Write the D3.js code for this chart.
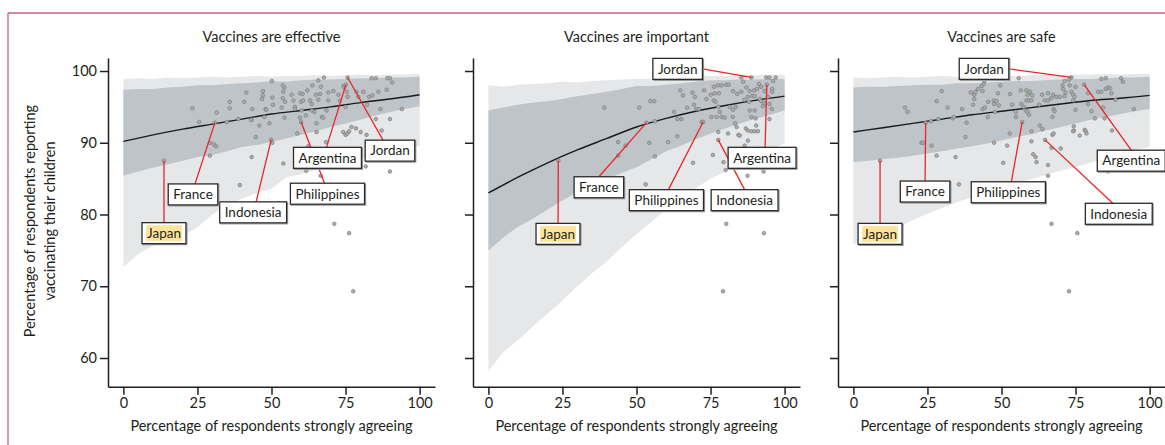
<!DOCTYPE html>
<html>
<head>
<meta charset="utf-8">
<script src="https://cdn.jsdelivr.net/npm/d3@7"></script>
<style>
body { margin: 0; background: #fff; }
text { font-family: Lato, "Open Sans", sans-serif; fill: #231f20; }
</style>
</head>
<body>
<script>
// tick labels and titles
var tickX = [0, 25, 50, 75, 100];
var tickY = [60, 70, 80, 90, 100];
var panelTitles = ["Vaccines are effective", "Vaccines are important", "Vaccines are safe"];
var countries = ["Japan", "France", "Indonesia", "Argentina", "Philippines", "Jordan"];

// prediction bands, read every 5 points along x
var bandX = [0,5,10,15,20,25,30,35,40,45,50,55,60,65,70,75,80,85,90,95,100];
var effOuterHi = [98.9,99.0,98.9,99.1,99.0,99.1,99.2,99.1,99.2,99.3,99.2,99.3,99.3,99.4,99.3,99.4,99.5,99.4,99.5,99.5,99.6];
var effInnerHi = [97.4,97.5,97.5,97.7,97.8,98.0,98.0,98.2,98.3,98.4,98.6,98.5,98.7,98.8,98.8,98.9,99.0,99.0,99.1,99.1,99.2];
var effInnerLo = [85.4,86.0,86.5,87.0,87.5,88.0,88.3,88.8,89.4,89.7,90.1,90.6,91.1,91.6,92.2,92.7,93.2,93.8,94.3,94.7,95.1];
var effOuterLo = [72.7,74.5,75.6,76.3,77.0,78.2,80.0,81.3,82.2,83.0,83.6,85.2,85.6,86.2,86.8,87.2,87.7,88.2,88.8,89.2,89.6];

var impOuterHi = [98.0,97.8,98.1,98.2,98.3,98.5,98.4,98.6,98.7,98.8,98.9,98.9,99.0,99.1,99.2,99.3,99.3,99.4,99.4,99.5,99.5];
var impInnerHi = [94.5,94.9,95.3,95.6,95.8,96.1,96.5,96.8,97.1,97.5,97.9,97.9,98.1,98.3,98.5,98.7,98.7,98.8,98.8,98.9,98.9];
var impInnerLo = [75.0,76.8,78.3,79.4,80.7,82.0,83.1,84.2,85.0,85.8,86.6,87.7,88.8,89.6,90.5,91.3,92.0,92.7,93.3,93.9,94.5];
var impOuterLo = [58.2,60.8,62.5,64.4,66.2,68.0,70.0,71.8,73.5,75.4,77.3,79.0,80.7,82.3,83.7,85.0,86.0,87.0,88.0,89.0,89.9];

var safeOuterHi = [99.1,99.0,99.1,99.2,99.1,99.2,99.3,99.2,99.3,99.3,99.4,99.3,99.4,99.5,99.4,99.5,99.5,99.6,99.5,99.6,99.6];
var safeInnerHi = [97.7,97.8,97.8,97.9,98.0,98.1,98.1,98.3,98.3,98.4,98.5,98.6,98.6,98.7,98.8,98.9,98.9,99.0,99.1,99.1,99.2];
var safeInnerLo = [87.3,87.5,87.7,87.9,88.2,88.5,88.8,89.2,89.5,89.9,90.3,90.8,91.2,91.7,92.2,92.7,93.2,93.6,94.0,94.4,94.7];
var safeOuterLo = [75.9,76.5,77.3,78.2,79.2,80.1,80.9,81.7,82.4,83.0,83.6,84.3,84.9,85.5,86.1,86.6,87.2,87.8,88.5,89.0,89.4];

// fitted curves
var curveX = [0,10,20,30,40,50,60,70,80,90,100];
var effCurve = [90.2,91.1,91.9,92.6,93.3,94.0,94.5,95.0,95.6,96.1,96.7];
var impCurve = [83.0,85.2,87.2,89.0,90.6,92.2,93.4,94.4,95.2,95.9,96.5];
var safeCurve = [91.5,92.1,92.7,93.3,93.9,94.4,94.9,95.4,95.9,96.2,96.6];

// labelled countries [x, y] in the order of `countries`
var effHighlight = [[13.7,87.5],[30.9,92.8],[49.9,90.4],[75.1,98.1],[60.0,92.9],[75.7,99.1]];
var impHighlight = [[23.6,87.5],[53.4,92.8],[77.6,90.4],[94.0,98.1],[72.5,92.9],[88.8,99.1]];
var safeHighlight = [[9.0,87.5],[24.4,92.8],[64.7,90.4],[77.9,98.1],[57.0,92.9],[73.6,99.1]];

// other countries [x, y]
var effPoints = [[23.3,94.8],[25.6,92.9],[29.2,90.0],[30.5,89.8],[31.3,89.5],[29.2,88.2],[31.5,94.2],[35.9,95.7],[35.9,94.8],[34.9,92.9],[38.8,93.3],[40.8,95.7],[41.5,97.0],[43.5,94.7],[43.3,93.2],[43.3,88.0],[39.3,84.1],[44.7,90.8],[45.9,92.4],[47.1,97.2],[47.1,96.6],[46.8,96.1],[48.0,94.7],[47.6,93.6],[49.3,92.7],[50.1,98.6],[50.3,96.3],[50.5,95.3],[50.3,90.0],[54.0,87.1],[54.3,97.7],[54.0,97.1],[53.8,96.2],[54.6,95.7],[53.4,94.9],[54.4,93.5],[56.8,96.7],[57.4,95.9],[57.9,95.0],[58.7,91.3],[59.6,96.9],[60.5,96.8],[60.0,95.7],[60.7,95.9],[60.2,94.5],[61.6,93.8],[62.1,97.3],[63.0,95.9],[63.6,95.4],[63.6,94.5],[62.4,89.5],[61.7,86.1],[63.8,98.0],[65.0,96.7],[65.8,96.0],[64.5,94.3],[65.2,92.7],[65.2,91.5],[65.8,98.7],[66.7,97.8],[66.4,96.8],[67.0,93.6],[67.5,93.5],[67.7,99.1],[69.2,97.0],[69.2,95.9],[68.6,94.5],[66.6,85.4],[68.4,90.1],[70.9,97.2],[72.6,96.7],[73.1,95.9],[74.3,97.9],[74.6,97.7],[75.4,97.1],[75.7,96.4],[75.0,95.0],[74.2,91.5],[75.0,91.1],[75.6,91.3],[76.2,91.6],[77.0,92.2],[78.5,92.0],[80.1,91.5],[82.1,91.1],[78.7,97.1],[79.3,96.4],[81.0,97.1],[82.3,95.3],[83.8,99.0],[85.2,99.0],[82.9,96.4],[84.1,96.6],[86.1,97.1],[85.2,93.3],[86.8,94.7],[87.2,91.7],[88.9,97.4],[89.1,99.0],[90.0,99.0],[90.8,98.4],[90.0,93.3],[94.0,94.7],[81.8,86.7],[90.0,86.0],[71.2,78.7],[76.2,77.4],[77.6,69.3],[43.1,93.2],[48.2,94.6],[53.8,98.0],[57.9,94.7],[59.6,93.5]];
var impPoints = [[39.1,94.9],[50.9,94.9],[54.7,95.8],[56.0,95.8],[56.2,93.0],[43.8,90.1],[43.8,88.2],[46.3,89.6],[54.3,90.0],[56.2,88.1],[53.1,84.2],[60.7,90.1],[62.7,94.3],[63.8,93.3],[65.2,93.3],[63.8,90.9],[64.8,97.3],[65.7,96.6],[67.1,94.9],[68.9,97.0],[69.7,96.4],[69.4,95.3],[70.2,94.7],[71.1,94.7],[69.1,87.2],[72.0,92.9],[72.8,97.3],[73.6,96.1],[75.1,96.7],[76.4,96.9],[77.8,96.9],[76.1,97.8],[77.5,98.0],[78.7,98.0],[76.1,95.9],[76.7,95.7],[77.6,95.0],[75.3,93.6],[77.0,93.6],[78.7,93.6],[79.8,93.5],[78.1,94.3],[80.3,98.1],[81.1,98.1],[82.6,97.2],[84.0,96.8],[85.4,97.1],[81.5,95.0],[82.6,94.6],[83.5,95.0],[82.5,93.6],[83.3,92.7],[83.8,92.2],[84.4,91.1],[84.9,91.0],[77.6,91.5],[80.9,91.3],[75.8,88.3],[79.4,87.3],[80.1,86.2],[86.0,98.5],[85.4,99.1],[87.1,97.7],[88.2,97.2],[89.7,97.3],[90.7,97.5],[87.6,96.4],[89.1,96.5],[89.9,96.5],[86.5,96.0],[88.0,95.7],[88.2,94.5],[89.9,94.5],[88.8,93.6],[90.2,93.4],[90.4,92.4],[86.9,92.0],[87.6,91.7],[88.8,91.6],[89.9,91.6],[91.0,91.6],[87.6,90.3],[86.5,89.6],[87.5,85.4],[91.3,98.2],[92.1,97.8],[93.3,97.2],[91.6,96.1],[92.1,95.8],[92.7,95.1],[93.3,95.5],[93.8,99.1],[94.9,99.1],[96.1,98.6],[97.0,99.1],[94.4,96.4],[94.9,95.4],[95.8,97.5],[95.8,97.1],[95.7,94.7],[94.9,93.3],[92.9,86.0],[80.3,78.7],[93.0,77.4],[79.2,69.3]];
var safePoints = [[17.4,94.9],[18.3,94.3],[28.1,95.8],[29.8,97.2],[31.8,94.9],[26.2,93.0],[28.7,93.3],[23.0,90.0],[23.6,90.0],[26.4,89.6],[28.1,88.2],[34.5,88.0],[35.6,84.2],[33.5,93.4],[33.9,93.6],[36.7,94.7],[37.8,90.8],[38.2,92.8],[39.6,97.0],[40.8,96.7],[41.2,97.1],[40.8,96.1],[40.4,95.3],[42.1,97.5],[43.3,97.9],[44.2,98.6],[44.0,98.2],[43.6,97.2],[43.6,94.7],[44.4,94.9],[45.4,93.6],[45.5,95.7],[47.4,95.9],[47.5,95.4],[48.3,95.8],[49.1,95.2],[47.8,94.3],[49.6,98.0],[48.8,96.9],[47.5,90.0],[51.9,89.6],[50.6,87.2],[52.9,96.8],[53.6,95.3],[52.8,91.3],[54.8,94.3],[54.9,93.6],[55.8,99.0],[56.5,97.3],[56.7,95.4],[57.5,95.0],[58.4,97.3],[58.8,96.7],[59.6,97.1],[60.4,96.6],[58.4,95.9],[59.3,95.9],[60.1,95.9],[58.2,94.5],[58.8,94.3],[59.3,93.9],[60.1,91.6],[60.1,90.2],[60.7,88.4],[61.5,88.0],[61.8,87.3],[63.7,96.7],[62.7,95.3],[62.9,92.4],[63.8,91.9],[65.7,96.9],[66.8,96.2],[67.4,96.7],[64.6,95.9],[65.7,95.9],[67.6,94.7],[67.9,94.4],[67.2,93.6],[67.2,91.1],[67.6,91.3],[66.9,89.3],[70.0,89.2],[65.7,86.9],[65.7,85.4],[68.5,96.4],[69.7,96.4],[71.3,96.5],[71.6,97.0],[70.6,98.0],[70.8,97.5],[71.3,98.6],[72.8,98.8],[73.0,98.0],[73.6,97.1],[74.2,96.7],[74.7,96.4],[74.2,95.9],[74.4,92.3],[74.4,91.7],[74.2,91.6],[75.0,97.8],[75.0,94.6],[76.4,91.0],[78.1,91.8],[78.4,91.6],[78.7,91.3],[79.2,96.9],[79.2,95.4],[80.4,94.4],[81.5,93.4],[82.6,97.1],[83.7,97.1],[83.7,98.9],[85.2,99.0],[84.3,94.9],[84.8,93.4],[85.2,97.5],[86.0,97.7],[86.7,97.6],[87.1,96.9],[87.3,91.7],[88.5,96.0],[86.0,86.0],[90.4,99.0],[91.0,98.5],[94.7,94.7],[66.9,78.7],[75.6,77.4],[72.8,69.3]];

// label box placement in data units: box centre, where the leader meets the box
var effLabels = [
  {bx: 13.7, by: 77.4, side: "top", dx: 0},
  {bx: 23.5, by: 82.8, side: "top", dx: 2},
  {bx: 43.8, by: 80.3, side: "top", dx: 3},
  {bx: 68.9, by: 87.9, side: "top", dx: -1},
  {bx: 68.9, by: 82.9, side: "top", dx: -3},
  {bx: 90.0, by: 88.9, side: "top", dx: -7}
];
var impLabels = [
  {bx: 23.5, by: 77.3, side: "top", dx: 0},
  {bx: 37.3, by: 83.8, side: "top", dx: 0},
  {bx: 86.5, by: 82.0, side: "top", dx: 0},
  {bx: 92.4, by: 87.9, side: "top", dx: 3},
  {bx: 60.1, by: 82.0, side: "top", dx: 2},
  {bx: 63.9, by: 100.3, side: "right", dx: 0}
];
var safeLabels = [
  {bx: 9.0, by: 77.3, side: "top", dx: 0},
  {bx: 24.2, by: 83.2, side: "top", dx: 0},
  {bx: 89.6, by: 80.1, side: "top", dx: -6},
  {bx: 93.8, by: 87.5, side: "top", dx: 0},
  {bx: 52.3, by: 83.1, side: "top", dx: 3},
  {bx: 44.1, by: 100.3, side: "right", dx: 0}
];

var panels = [
  {title: panelTitles[0], oHi: effOuterHi, iHi: effInnerHi, iLo: effInnerLo, oLo: effOuterLo, curve: effCurve, pts: effPoints, hl: effHighlight, labels: effLabels},
  {title: panelTitles[1], oHi: impOuterHi, iHi: impInnerHi, iLo: impInnerLo, oLo: impOuterLo, curve: impCurve, pts: impPoints, hl: impHighlight, labels: impLabels},
  {title: panelTitles[2], oHi: safeOuterHi, iHi: safeInnerHi, iLo: safeInnerLo, oLo: safeOuterLo, curve: safeCurve, pts: safePoints, hl: safeHighlight, labels: safeLabels}
];

var W = 1165, H = 445;
var svg = d3.select("body").append("svg")
            .attr("width", W)
            .attr("height", H);

// page frame
svg.append("line").attr("x1", 8).attr("x2", W).attr("y1", 13).attr("y2", 13)
   .attr("stroke", "#c9607d").attr("stroke-width", 1.3);
svg.append("line").attr("x1", 8).attr("x2", 8).attr("y1", 13).attr("y2", H)
   .attr("stroke", "#c9607d").attr("stroke-width", 1.3);

var y = d3.scaleLinear().domain([56, 101.8]).range([386.7, 58.1]);

panels.forEach(function(p, i) {
    var off = i * 365;
    var x = d3.scaleLinear().domain([-5.2, 105.2]).range([108 + off, 435 + off]);
    var g = svg.append("g");

    var band = function(hi, lo) {
        return d3.area()
                 .x(function(d, k) { return x(bandX[k]); })
                 .y0(function(d, k) { return y(lo[k]); })
                 .y1(function(d, k) { return y(hi[k]); })(bandX);
    };
    g.append("path").attr("d", band(p.oHi, p.oLo)).attr("fill", "#e6e7e8");
    g.append("path").attr("d", band(p.iHi, p.iLo)).attr("fill", "#bec4c8");

    var line = d3.line()
                 .x(function(d, k) { return x(curveX[k]); })
                 .y(function(d) { return y(d); })
                 .curve(d3.curveMonotoneX);
    g.append("path").attr("d", line(p.curve))
     .attr("fill", "none").attr("stroke", "#1a1a1a").attr("stroke-width", 1.4);

    g.selectAll(".pt")
     .data(p.pts.concat(p.hl))
     .enter()
     .append("circle")
     .attr("cx", function(d) { return x(d[0]); })
     .attr("cy", function(d) { return y(d[1]); })
     .attr("r", 1.8)
     .attr("fill", "#adadad")
     .attr("stroke", "#7a7a7a")
     .attr("stroke-width", 0.7);

    // axes
    var yAxis = d3.axisLeft(y).tickValues(tickY).tickSize(8).tickSizeOuter(0).tickPadding(3);
    if (i > 0) yAxis.tickFormat("");
    var ya = g.append("g").attr("transform", "translate(" + (108 + off) + ",0)").call(yAxis);
    var xa = g.append("g").attr("transform", "translate(0,386.7)")
              .call(d3.axisBottom(x).tickValues(tickX).tickSize(8).tickSizeOuter(0).tickPadding(3));
    [ya, xa].forEach(function(a) {
        a.selectAll("path, line").attr("stroke", "#231f20").attr("stroke-width", 1.5);
        a.selectAll("text").style("font-size", "14.5px").style("font-family", "Lato, sans-serif").attr("fill", "#231f20");
    });

    g.append("text")
     .attr("x", x(50)).attr("y", 42)
     .attr("text-anchor", "middle")
     .style("font-size", "14.5px")
     .text(p.title);

    g.append("text")
     .attr("x", x(50)).attr("y", 431)
     .attr("text-anchor", "middle")
     .style("font-size", "14.5px")
     .text("Percentage of respondents strongly agreeing");

    // leaders first, then boxes on top
    var boxH = 21;
    var lg = g.append("g"), bg = g.append("g");
    countries.forEach(function(c, k) {
        var L = p.labels[k];
        var cx = x(L.bx), cy = y(L.by);
        var t = bg.append("text")
                  .attr("x", cx).attr("y", cy + 4.8)
                  .attr("text-anchor", "middle")
                  .style("font-size", "13.5px")
                  .text(c);
        var tw = t.node().getComputedTextLength();
        var bw = tw + 10;
        if (c == "Japan") {
            bg.insert("rect", "text")
              .attr("x", cx - tw / 2 - 1).attr("y", cy - 8)
              .attr("width", tw + 2).attr("height", 16)
              .attr("fill", "#fde49a");
        }
        bg.insert("rect", ":first-child")
          .attr("x", cx - bw / 2).attr("y", cy - boxH / 2)
          .attr("width", bw).attr("height", boxH)
          .attr("fill", "#fff").attr("stroke", "#2b2b2b").attr("stroke-width", 1.3);
        bg.insert("rect", ":first-child")
          .attr("x", cx - bw / 2 + 1).attr("y", cy - boxH / 2 + 1)
          .attr("width", bw).attr("height", boxH)
          .attr("fill", "none").attr("stroke", "#9a9a9a").attr("stroke-width", 1.2);

        var ex, ey;
        if (L.side == "top") { ex = cx + L.dx; ey = cy - boxH / 2; }
        else { ex = cx + bw / 2; ey = cy; }
        lg.append("line")
          .attr("x1", x(p.hl[k][0])).attr("y1", y(p.hl[k][1]))
          .attr("x2", ex).attr("y2", ey)
          .attr("stroke", "#e8262a").attr("stroke-width", 1.3);
    });
});

// shared y label
svg.append("text")
   .attr("transform", "translate(35,221) rotate(-90)")
   .attr("text-anchor", "middle")
   .style("font-size", "14.5px")
   .text("Percentage of respondents reporting");
svg.append("text")
   .attr("transform", "translate(55,221) rotate(-90)")
   .attr("text-anchor", "middle")
   .style("font-size", "14.5px")
   .text("vaccinating their children");
</script>
</body>
</html>
